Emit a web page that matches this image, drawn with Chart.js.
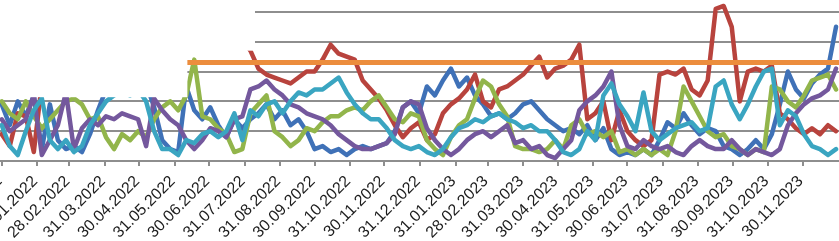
<!DOCTYPE html>
<html>
<head>
<meta charset="utf-8">
<script src="https://cdn.jsdelivr.net/npm/chart.js@4.4.1/dist/chart.umd.min.js"></script>
<style>
  html, body { margin: 0; padding: 0; background: #fff; }
</style>
</head>
<body>
<canvas id="chart" width="839" height="241"></canvas>
<script>
// weekly observations, counted in days from 31.12.2021
const startDate = new Date(2021, 11, 31);
const days = Array.from({ length: 105 }, (_, i) => i * 7);

const tickLabels = ['31.12.2021', '31.01.2022', '28.02.2022', '31.03.2022', '30.04.2022', '31.05.2022',
  '30.06.2022', '31.07.2022', '31.08.2022', '30.09.2022', '31.10.2022', '30.11.2022', '31.12.2022',
  '31.01.2023', '28.02.2023', '31.03.2023', '30.04.2023', '31.05.2023', '30.06.2023', '31.07.2023',
  '31.08.2023', '30.09.2023', '31.10.2023', '30.11.2023'];

const blue = [19,12,20,15,22,4,19,7,4,5, 3,9,17,24,26,25,27,24,26,18, 7,4,3,25,17,14,18,12,8,14,
  11,14,16,19,14,17,12,14,10,4, 5,3,4,2,4,5,4,5,6,10, 18,20,16,25,22,27,31,25,28,22,
  19,15,16,14,16,19,20,17,14,12, 10,11,9,12,7,11,4,2,3,2, 4,2,7,13,11,16,12,9,11,10,
  5,4,2,4,7,4,9,19,30,24, 21,26,29,31,45];
const red = [9,5,16,15,3,26,30,28,32,29, 33,30,27,31,34,30,32,35,31,33, 36,34,37,39,40,41,39,42,40,43,
  41,37,31,29,28,27,26,28,30,30, 34,39,36,35,34,27,24,21,17,12, 8,11,13,7,9,16,19,21,24,29,
  20,18,24,25,27,29,32,35,28,31, 32,34,39,14,16,20,7,17,10,7, 5,7,29,30,29,31,24,22,27,51,
  52,45,20,30,31,30,32,16,14,11, 9,11,9,12,10];
const green = [20,16,14,20,15,11,14,17,20,21, 19,14,15,8,4,9,7,10,8,14, 18,20,17,22,34,15,14,11,9,3,
  4,16,19,22,10,8,5,7,11,10, 13,15,15,17,18,17,20,22,18,14, 13,16,15,7,4,2,8,12,14,21,
  27,25,19,15,5,4,4,3,4,7, 4,12,14,9,10,8,10,3,4,2, 4,2,4,2,10,25,20,15,10,8,
  9,5,4,2,4,3,25,24,20,18, 22,27,28,29,24];
const purple = [14,10,12,14,22,2,7,12,23,4, 11,14,12,15,14,16,15,14,5,21, 17,14,12,7,4,7,11,10,8,14,
  15,24,25,27,24,22,19,18,16,15, 14,12,9,7,5,4,4,5,6,9, 18,20,19,11,7,4,2,4,7,9,
  10,8,10,12,6,7,4,5,2,1, 4,7,17,20,22,25,30,12,5,4, 7,5,4,5,3,2,5,7,5,4,
  4,7,4,2,4,3,2,4,12,16, 19,21,22,24,31];
const cyan = [12,5,2,10,17,21,7,4,7,3, 5,12,16,20,22,23,22,24,20,10, 4,4,2,7,6,9,10,8,10,16,
  7,17,15,19,20,16,20,23,22,24, 24,26,28,23,19,16,14,14,11,7, 5,4,5,3,2,4,8,11,12,14,
  13,15,16,14,13,11,12,10,10,7, 3,2,4,10,7,22,26,19,15,10, 23,10,7,9,11,12,13,10,11,25,
  27,19,14,19,25,30,31,12,17,15, 9,5,4,2,4];
const limitLevel = 33;
const limitFrom = 162;
const limitTo = 731;

function dayOf(label) {
  const [d, m, y] = label.split('.').map(Number);
  return Math.round((new Date(y, m - 1, d) - startDate) / 86400000);
}
const tickDays = tickLabels.map(dayOf);

function points(values) {
  return values.map((v, i) => ({ x: days[i], y: v }));
}

function line(data, color, order, width) {
  return {
    data: data,
    borderColor: color,
    backgroundColor: color,
    borderWidth: width || 4.5,
    pointRadius: 0,
    tension: 0,
    borderJoinStyle: 'round',
    borderCapStyle: 'round',
    order: order
  };
}

// the top left of the picture is covered by a white box
const maskPlugin = {
  id: 'mask',
  afterDatasetsDraw(chart) {
    const ctx = chart.ctx;
    const x = chart.scales.x;
    const y = chart.scales.y;
    ctx.save();
    ctx.fillStyle = '#ffffff';
    ctx.fillRect(0, 0, x.getPixelForValue(162), y.getPixelForValue(21.4));
    ctx.fillRect(0, 0, x.getPixelForValue(221), y.getPixelForValue(37));
    ctx.restore();
  }
};

const gridColor = '#8e8e8e';

new Chart(document.getElementById('chart'), {
  type: 'line',
  data: {
    datasets: [
      line(points(blue), '#3f71b7', 6),
      line(points(red), '#b8433d', 5),
      line(points(green), '#92b54b', 4),
      line(points(purple), '#74589d', 3),
      line(points(cyan), '#3aa5c1', 2),
      line([{ x: limitFrom, y: limitLevel }, { x: limitTo, y: limitLevel }], '#ec8d3d', 1, 5)
    ]
  },
  options: {
    responsive: false,
    animation: false,
    layout: { padding: 0, autoPadding: false },
    plugins: { legend: { display: false }, tooltip: { enabled: false } },
    scales: {
      x: {
        type: 'linear',
        min: -1.5,
        max: 730.6,
        afterBuildTicks: (scale) => { scale.ticks = tickDays.map(v => ({ value: v })); },
        afterFit: (scale) => {
          scale.height = 80;
          scale.paddingLeft = 0;
          scale.paddingRight = 0;
        },
        ticks: {
          autoSkip: false,
          minRotation: 45,
          maxRotation: 45,
          padding: 6,
          labelOffset: -2,
          color: '#1c1c1c',
          font: { family: 'Liberation Sans, Arial, sans-serif', size: 16 },
          callback: (value, index) => tickLabels[index]
        },
        grid: { drawOnChartArea: false, color: gridColor, lineWidth: 2, tickLength: 5 },
        border: { color: gridColor, width: 2 }
      },
      y: {
        min: 0,
        max: 54,
        afterFit: (scale) => { scale.width = 0; },
        ticks: { display: false, stepSize: 10, includeBounds: false },
        grid: { color: gridColor, lineWidth: 2, drawTicks: false },
        border: { display: false }
      }
    }
  },
  plugins: [maskPlugin]
});
</script>
</body>
</html>
